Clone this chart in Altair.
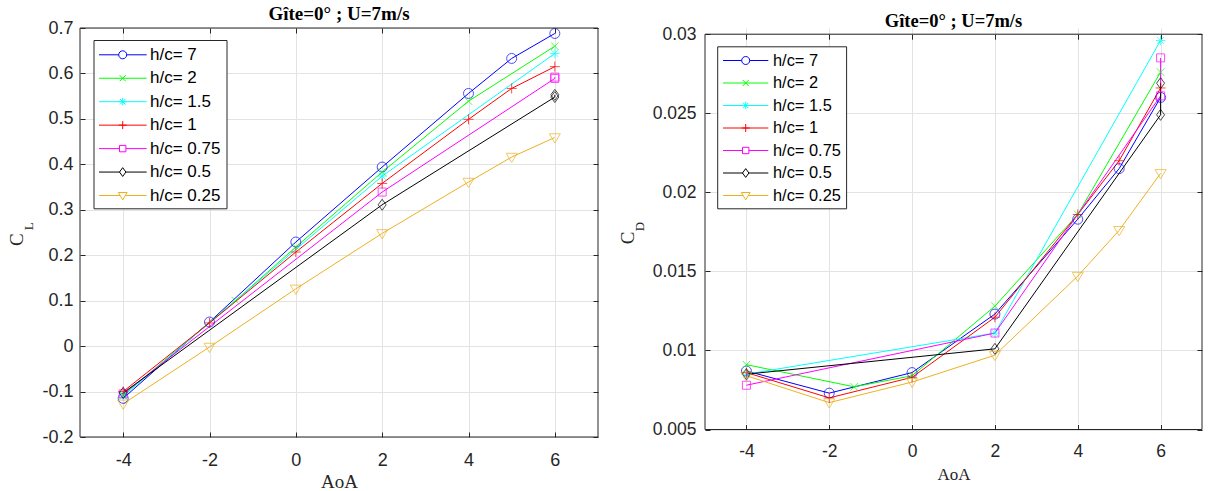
import altair as alt
import pandas as pd

# Series (ground clearance ratio) and MATLAB default line colours
SERIES = ["h/c= 7", "h/c= 2", "h/c= 1.5", "h/c= 1", "h/c= 0.75", "h/c= 0.5", "h/c= 0.25"]
COLORS = ["#0000FF", "#00FF00", "#00FFFF", "#FF0000", "#FF00FF", "#000000", "#EDB120"]

# Angles of attack measured for each series
AOA_HC7 = [-4, -2, 0, 2, 4, 5, 6]
AOA_HC2 = [-4, -1.4, 0, 2, 4, 6]
AOA_HC15 = [-4, 2, 6]
AOA_HC1 = [-4, -2, 0, 2, 4, 5, 6]
AOA_HC075 = [-4, 2, 6, 6]
AOA_HC05 = [-4, 2, 6, 6]
AOA_HC025 = [-4, -2, 0, 2, 4, 5, 6]

# Lift coefficient
CL_HC7 = [-0.115, 0.053, 0.229, 0.394, 0.556, 0.633, 0.688]
CL_HC2 = [-0.108, 0.100, 0.218, 0.383, 0.539, 0.660]
CL_HC15 = [-0.110, 0.374, 0.644]
CL_HC1 = [-0.100, 0.051, 0.207, 0.358, 0.499, 0.567, 0.615]
CL_HC075 = [-0.105, 0.339, 0.589, 0.592]
CL_HC05 = [-0.103, 0.311, 0.548, 0.553]
CL_HC025 = [-0.127, -0.002, 0.126, 0.248, 0.361, 0.416, 0.459]

# Drag coefficient
CD_HC7 = [0.0087, 0.0073, 0.0086, 0.0123, 0.0183, 0.0215, 0.0260]
CD_HC2 = [0.0091, 0.0077, 0.0084, 0.0128, 0.0186, 0.0276]
CD_HC15 = [0.0085, 0.0111, 0.0296]
CD_HC1 = [0.0086, 0.0070, 0.0083, 0.0121, 0.0186, 0.0220, 0.0266]
CD_HC075 = [0.0078, 0.0111, 0.0261, 0.0285]
CD_HC05 = [0.0085, 0.0101, 0.0249, 0.0269]
CD_HC025 = [0.0084, 0.0067, 0.0080, 0.0097, 0.0147, 0.0176, 0.0212]

AOA_RANGE = [-5, 7]
CL_RANGE = [-0.2, 0.7]
CD_RANGE = [0.005, 0.03]
X_TICKS = [-4, -2, 0, 2, 4, 6]
CL_TICKS = [-0.2, -0.1, 0, 0.1, 0.2, 0.3, 0.4, 0.5, 0.6, 0.7]
CD_TICKS = [0.005, 0.01, 0.015, 0.02, 0.025, 0.03]

TITLE = "Gîte=0° ; U=7m/s"

DARK = "#262626"
GRID = "#e3e3e3"
SANS = "Liberation Sans"
SERIF = "Liberation Serif"

# Unfilled marker outlines (o, x, *, +, square, diamond, down-triangle)
MARKERS = [
    "M-1,0A1,1 0 1,0 1,0A1,1 0 1,0 -1,0Z",
    "M-0.75,-0.75L0.75,0.75M-0.75,0.75L0.75,-0.75",
    "M-0.95,0L0.95,0M0,-0.95L0,0.95M-0.68,-0.68L0.68,0.68M-0.68,0.68L0.68,-0.68",
    "M-1,0L1,0M0,-1L0,1",
    "M-0.8,-0.8L0.8,-0.8L0.8,0.8L-0.8,0.8Z",
    "M0,-1.1L0.8,0L0,1.1L-0.8,0Z",
    "M-1.1,-0.75L1.1,-0.75L0,1.1Z",
]

AOA_ALL = [AOA_HC7, AOA_HC2, AOA_HC15, AOA_HC1, AOA_HC075, AOA_HC05, AOA_HC025]
CL_ALL = [CL_HC7, CL_HC2, CL_HC15, CL_HC1, CL_HC075, CL_HC05, CL_HC025]
CD_ALL = [CD_HC7, CD_HC2, CD_HC15, CD_HC1, CD_HC075, CD_HC05, CD_HC025]

MINUS_FIX = "replace(datum.label, '\u2212', '-')"


def long_table(values):
    rows = []
    for name, xs, ys in zip(SERIES, AOA_ALL, values):
        for i, (x, y) in enumerate(zip(xs, ys)):
            rows.append({"series": name, "aoa": x, "val": y, "seq": i})
    return pd.DataFrame(rows)


def text_layer(txt, x, y, font, size, weight="normal", angle=0, align="center",
               baseline="alphabetic"):
    return alt.Chart(pd.DataFrame({"t": [txt]})).mark_text(
        font=font, fontSize=size, fontWeight=weight, angle=angle, align=align,
        baseline=baseline, color="#000000" if weight == "bold" else DARK,
    ).encode(text="t:N", x=alt.value(x), y=alt.value(y))


def panel(values, y_range, y_ticks, y_fmt, width, height, plot_top, tick_fs,
          label_pad_x, label_pad_y, xtitle_fs, xtitle_pad, title_fs, title_y,
          sub, c_pos, sub_pos, box, rows, line_x, mark_x, label_x, legend_fs):
    df = long_table(values)
    color_scale = alt.Scale(domain=SERIES, range=COLORS)
    shape_scale = alt.Scale(domain=SERIES, range=MARKERS)
    x_scale = alt.Scale(domain=AOA_RANGE, nice=False, zero=False)
    # plot area spans [plot_top, height] inside the group
    y_scale = alt.Scale(domain=y_range, range=[height, plot_top], nice=False, zero=False)
    base = alt.Chart(df)

    lines = base.mark_line(strokeWidth=1).encode(
        x=alt.X("aoa:Q", scale=x_scale, axis=alt.Axis(
            orient="bottom", values=X_TICKS, offset=-5, tickSize=5, tickColor=DARK,
            domain=False, grid=True, gridColor=GRID, labelFont=SANS,
            labelFontSize=tick_fs, labelColor=DARK, labelPadding=label_pad_x,
            labelExpr=MINUS_FIX, title="AoA", titleFont=SERIF,
            titleFontSize=xtitle_fs, titleFontWeight="normal", titleColor=DARK,
            titlePadding=xtitle_pad)),
        y=alt.Y("val:Q", scale=y_scale, axis=alt.Axis(
            orient="left", values=y_ticks, format=y_fmt, offset=-5, tickSize=5,
            tickColor=DARK, domain=False, grid=True, gridColor=GRID,
            labelFont=SANS, labelFontSize=tick_fs, labelColor=DARK,
            labelPadding=label_pad_y, labelExpr=MINUS_FIX, title=None)),
        color=alt.Color("series:N", scale=color_scale, legend=None),
        order=alt.Order("seq:Q"),
    )

    points = base.mark_point(filled=False, size=100, strokeWidth=1).encode(
        x=alt.X("aoa:Q", scale=x_scale, axis=alt.Axis(
            orient="top", values=X_TICKS, offset=-(plot_top + 5), tickSize=5,
            tickColor=DARK, labels=False, domain=False, grid=False, title=None)),
        y=alt.Y("val:Q", scale=y_scale, axis=alt.Axis(
            orient="right", values=y_ticks, offset=-5, tickSize=5, tickColor=DARK,
            labels=False, domain=False, grid=False, title=None)),
        color=alt.Color("series:N", scale=color_scale, legend=None),
        shape=alt.Shape("series:N", scale=shape_scale, legend=None),
    )

    # axes box around the plot area
    frame = alt.Chart(pd.DataFrame({
        "x0": [AOA_RANGE[0]], "x1": [AOA_RANGE[1]],
        "y0": [y_range[0]], "y1": [y_range[1]],
    })).mark_rect(fillOpacity=0, stroke=DARK, strokeWidth=1).encode(
        x=alt.X("x0:Q", scale=x_scale, axis=None), x2="x1:Q",
        y=alt.Y("y0:Q", scale=y_scale, axis=None), y2="y1:Q",
    )

    # legend: framed box with a line + marker key for every series
    keys = pd.DataFrame({"series": SERIES})
    key_y = alt.Y("series:N", scale=alt.Scale(type="point", domain=SERIES,
                                              range=rows, padding=0), axis=None)
    key_box = alt.Chart(pd.DataFrame({"t": [0]})).mark_rect(
        fill="white", stroke=DARK, strokeWidth=1,
    ).encode(x=alt.value(box[0]), x2=alt.value(box[1]),
             y=alt.value(box[2]), y2=alt.value(box[3]))
    key_lines = alt.Chart(keys).mark_rule(strokeWidth=1).encode(
        x=alt.value(line_x[0]), x2=alt.value(line_x[1]), y=key_y,
        color=alt.Color("series:N", scale=color_scale, legend=None),
    )
    key_marks = alt.Chart(keys).mark_point(
        filled=False, fill="white", size=64, strokeWidth=1, opacity=1,
    ).encode(
        x=alt.value(mark_x), y=key_y,
        color=alt.Color("series:N", scale=color_scale, legend=None),
        shape=alt.Shape("series:N", scale=shape_scale, legend=None),
    )
    key_text = alt.Chart(keys).mark_text(
        font=SANS, fontSize=legend_fs, align="left", baseline="middle", color="#000000",
    ).encode(x=alt.value(label_x), y=key_y, text="series:N")

    title = text_layer(TITLE, width / 2, title_y, SERIF, title_fs, weight="bold")
    c_text = text_layer("C", c_pos[0], c_pos[1], SERIF, 19, angle=270)
    sub_text = text_layer(sub, sub_pos[0], sub_pos[1], SERIF, 13, angle=270)

    return alt.layer(
        lines, points, frame, key_box, key_lines, key_marks, key_text,
        title, c_text, sub_text,
    ).resolve_scale(y="independent").properties(width=width, height=height)


left = panel(CL_ALL, CL_RANGE, CL_TICKS, ".1~f", 518, 409, 0,
             tick_fs=18, label_pad_x=14, label_pad_y=7, xtitle_fs=19, xtitle_pad=3,
             title_fs=19, title_y=-8.2, sub="L", c_pos=(-57, 211.7),
             sub_pos=(-47.4, 198.4), box=(14, 147, 12.5, 180.8), rows=[26.8, 167.5],
             line_x=(19, 66.7), mark_x=42.7, label_x=70, legend_fs=17)

right = panel(CD_ALL, CD_RANGE, CD_TICKS, ".3~f", 497, 401.5, 6.2,
              tick_fs=17.5, label_pad_x=13, label_pad_y=9, xtitle_fs=17, xtitle_pad=6,
              title_fs=18.5, title_y=-1.5, sub="D", c_pos=(-71, 210),
              sub_pos=(-61.4, 198.5), box=(12.7, 141.6, 18.8, 180.8),
              rows=[32.5, 167.5], line_x=(18, 63.3), mark_x=40.7, label_x=68,
              legend_fs=16.4)

chart = alt.hconcat(left, right, spacing=20).properties(
    padding={"left": 8, "top": 4, "right": 3, "bottom": 0},
    background="white",
).configure_view(stroke=None)

chart.save("out.html", embed_options={"renderer": "svg", "actions": False})
